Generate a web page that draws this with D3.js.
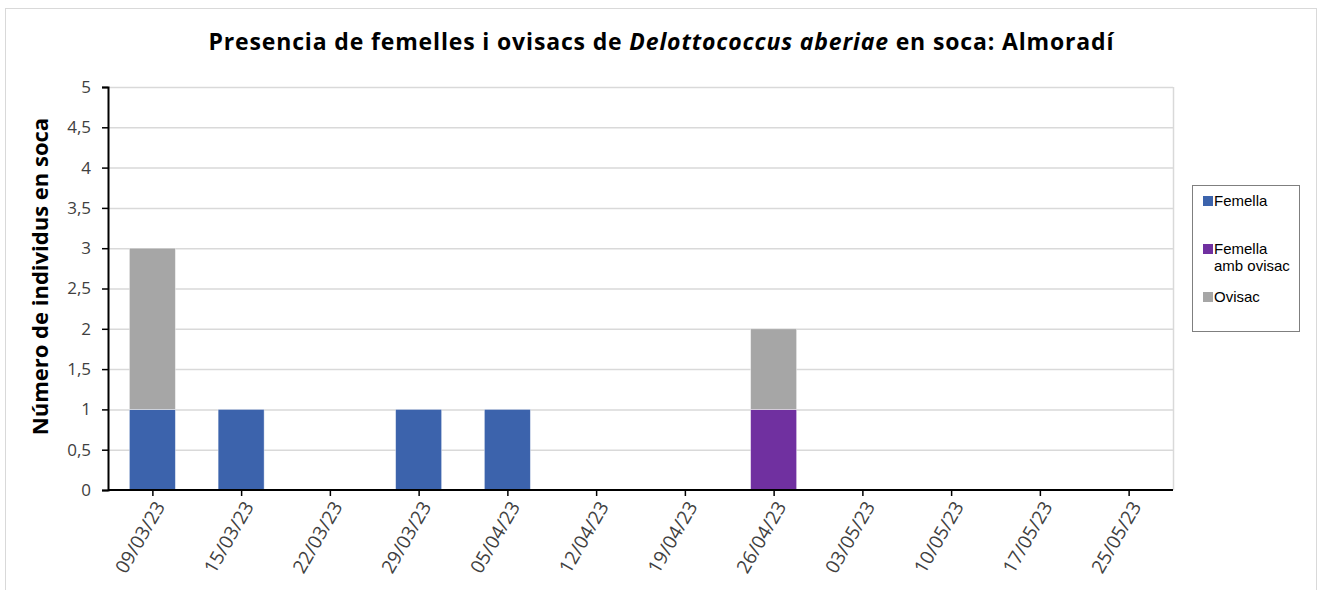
<!DOCTYPE html>
<html lang="ca">
<head>
<meta charset="UTF-8">
<title>Delottococcus aberiae - Almoradí</title>
<script src="https://d3js.org/d3.v7.min.js"></script>
<style>
  body { margin: 0; background: #fff; }
  svg text { font-family: "Open Sans", "Noto Sans", sans-serif; }
</style>
</head>
<body>
<div id="chart"></div>
<script>
// data
const dates = ["09/03/23", "15/03/23", "22/03/23", "29/03/23", "05/04/23", "12/04/23",
               "19/04/23", "26/04/23", "03/05/23", "10/05/23", "17/05/23", "25/05/23"];
const femella       = [1, 1, 0, 1, 1, 0, 0, 0, 0, 0, 0, 0];
const femellaOvisac = [0, 0, 0, 0, 0, 0, 0, 1, 0, 0, 0, 0];
const ovisac        = [2, 0, 0, 0, 0, 0, 0, 1, 0, 0, 0, 0];
const seriesNames  = ["Femella", "Femella amb ovisac", "Ovisac"];
const seriesColors = ["#3c63ac", "#7030a0", "#a6a6a6"];
const yTicks = [0, 0.5, 1, 1.5, 2, 2.5, 3, 3.5, 4, 4.5, 5];

const W = 1322, H = 590;
const plot = { left: 108, right: 1173, top: 87, bottom: 490 };

const svg = d3.select("#chart").append("svg")
  .attr("width", W).attr("height", H);

// outer chart frame
svg.append("rect")
  .attr("x", 5.5).attr("y", 8.5)
  .attr("width", 1311).attr("height", 600)
  .attr("fill", "#fff").attr("stroke", "#d9d9d9");

// title
const title = svg.append("text")
  .attr("x", 661).attr("y", 50)
  .attr("text-anchor", "middle")
  .attr("textLength", 905).attr("lengthAdjust", "spacing")
  .style("font-size", "23px").style("font-weight", "bold")
  .attr("fill", "#000");
title.append("tspan").text("Presencia de femelles i ovisacs de ");
title.append("tspan").style("font-style", "italic").text("Delottococcus aberiae");
title.append("tspan").text(" en soca: Almoradí");

const xCenter = d3.scalePoint().domain(dates).range([plot.left, plot.right]).padding(0.5);
const y = d3.scaleLinear().domain([0, 5]).range([plot.bottom, plot.top]);
const barW = 46;

// gridlines
svg.append("g")
  .selectAll("line")
  .data(yTicks.filter(d => d > 0))
  .join("line")
  .attr("x1", plot.left).attr("x2", plot.right)
  .attr("y1", d => y(d) + 0.5).attr("y2", d => y(d) + 0.5)
  .attr("stroke", "#d9d9d9").attr("stroke-width", 1.5);

// plot right edge
svg.append("line")
  .attr("x1", plot.right + 0.5).attr("x2", plot.right + 0.5)
  .attr("y1", plot.top).attr("y2", plot.bottom)
  .attr("stroke", "#d9d9d9").attr("stroke-width", 1.5);

// stacked bars
const table = dates.map((d, i) => ({
  date: d, "Femella": femella[i], "Femella amb ovisac": femellaOvisac[i], "Ovisac": ovisac[i]
}));
const stacked = d3.stack().keys(seriesNames)(table);
const color = d3.scaleOrdinal(seriesNames, seriesColors);

svg.append("g")
  .selectAll("g")
  .data(stacked)
  .join("g")
  .attr("fill", d => color(d.key))
  .selectAll("rect")
  .data(d => d.filter(p => p[1] - p[0] > 0))
  .join("rect")
  .attr("x", d => xCenter(d.data.date) - barW / 2)
  .attr("width", barW)
  .attr("y", d => y(d[1]))
  .attr("height", d => y(d[0]) - y(d[1]))
  .attr("stroke", "#fff").attr("stroke-opacity", 0.5).attr("stroke-width", 0.8);

// y axis
const yAxis = svg.append("g")
  .attr("transform", `translate(${plot.left},0)`)
  .call(d3.axisLeft(y).tickValues(yTicks).tickSize(6).tickPadding(11)
    .tickFormat(d => String(d).replace(".", ",")));
yAxis.select(".domain").attr("stroke", "#000").attr("stroke-width", 2);
yAxis.selectAll(".tick line").attr("stroke", "#000").attr("stroke-width", 1.5);
yAxis.selectAll(".tick text")
  .style("font-size", "17px").attr("fill", "#404040");

// x axis
const xAxis = svg.append("g")
  .attr("transform", `translate(0,${plot.bottom})`)
  .call(d3.axisBottom(xCenter).tickSize(6).tickSizeOuter(0));
xAxis.select(".domain").attr("stroke", "#000").attr("stroke-width", 2)
  .attr("d", `M${plot.left},0H${plot.right}`);
xAxis.selectAll(".tick line").attr("stroke", "#000").attr("stroke-width", 1.5);
xAxis.selectAll(".tick text")
  .style("font-size", "19px").attr("fill", "#404040")
  .attr("text-anchor", "end")
  .attr("dy", "0.35em")
  .attr("transform", "translate(7,13) rotate(-60)")
  .attr("x", 0).attr("y", 0);

// y axis title
svg.append("text")
  .attr("transform", `translate(48,${(plot.top + plot.bottom) / 2 - 12}) rotate(-90)`)
  .attr("text-anchor", "middle")
  .style("font-size", "22px").style("font-weight", "bold")
  .attr("fill", "#000")
  .text("Número de individus en soca");

// legend
const lg = svg.append("g").attr("transform", "translate(1192,185)");
lg.append("rect")
  .attr("x", 0.5).attr("y", 0.5).attr("width", 107).attr("height", 146)
  .attr("fill", "#fff").attr("stroke", "#7f7f7f");
const legendRows = [
  { name: "Femella", lines: ["Femella"], y: 16 },
  { name: "Femella amb ovisac", lines: ["Femella", "amb ovisac"], y: 64 },
  { name: "Ovisac", lines: ["Ovisac"], y: 112 }
];
const item = lg.selectAll("g.item").data(legendRows).join("g")
  .attr("class", "item")
  .attr("transform", d => `translate(11,${d.y})`);
item.append("rect")
  .attr("x", 0).attr("y", -5).attr("width", 10).attr("height", 10)
  .attr("fill", d => color(d.name));
item.append("text")
  .attr("x", 11).attr("y", 0)
  .style("font-family", "'Liberation Sans', Arial, sans-serif")
  .style("font-size", "15px").attr("fill", "#000")
  .selectAll("tspan").data(d => d.lines).join("tspan")
  .attr("x", 11).attr("dy", (d, i) => i === 0 ? "0.35em" : "1.1em")
  .text(d => d);
</script>
</body>
</html>
